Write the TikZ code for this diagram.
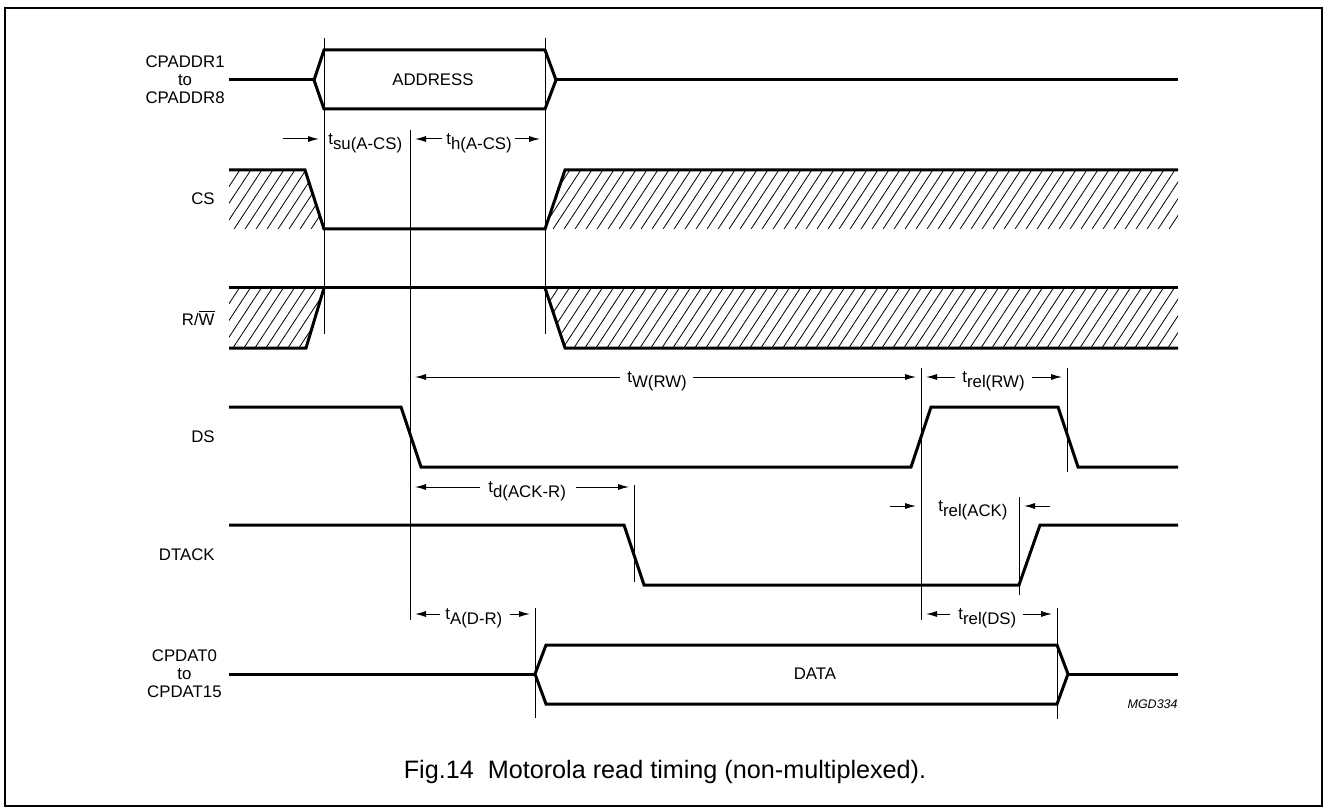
\documentclass[tikz,border=0pt]{standalone}
\usepackage{fontspec}
\setmainfont{Liberation Sans}
\usetikzlibrary{arrows.meta,calc}

\tikzset{
  wave/.style={line width=1.5pt, line join=miter},
  guide/.style={line width=0.5pt},
  dimarr/.style={line width=0.5pt, -{Latex[length=5.5pt,width=3pt]}, shorten >=2.5pt},
  siglbl/.style={font=\fontsize{8.4pt}{9pt}\selectfont, inner sep=0pt, align=center},
  tlbl/.style={font=\fontsize{8.4pt}{9pt}\selectfont, inner sep=0pt, anchor=west},
}
\newcommand{\tsub}[1]{t\smash{\raisebox{-2.5pt}{#1}}}
\newcommand{\hatchzone}[1]{%
  \begin{scope}
    \clip #1;
    \foreach \hx in {-50,-39,...,1200}
      \draw[line width=0.4pt] (\hx,360) -- ++(230,-350);
  \end{scope}}

\begin{document}
\begin{tikzpicture}[x=0.5pt, y=-0.5pt]
    \useasboundingbox (0,0) rectangle (1326,812);
    % Frame
    \draw[line width=1pt] (5,8) rectangle (1322,806);

    % Define guide positions
    \coordinate (gA) at (324,0);
    \coordinate (gB) at (410,0);
    \coordinate (gC) at (545,0);
    \coordinate (gD) at (921,0);
    \coordinate (gE) at (1067,0);
    \coordinate (gF) at (634,0);
    \coordinate (gG) at (1019,0);
    \coordinate (gH) at (535,0);
    \coordinate (gI) at (1057,0);

    % Hatched zones
    \hatchzone{(229,170) -- (305,170) -- (324,229) -- (229,229) -- cycle}
    \hatchzone{(545,229) -- (565,170) -- (1178,170) -- (1178,229) -- cycle}
    \hatchzone{(229,288) -- (324,288) -- (306,348) -- (229,348) -- cycle}
    \hatchzone{(545,288) -- (1178,288) -- (1178,348) -- (565,348) -- cycle}

    % Signal names
    \node[siglbl, anchor=east] (addr) at (225,80) {CPADDR1\\to\\CPADDR8};
    \node[siglbl, anchor=east] (cs) at (215,199) {CS};
    \node[siglbl, anchor=east] (rw) at (215,318) {R/$\overline{\mbox{W}}$};
    \node[siglbl, anchor=east] (ds) at (215,437) {DS};
    \node[siglbl, anchor=east] (dtack) at (215,555) {DTACK};
    \node[siglbl, anchor=east] (dat) at (222,674) {CPDAT0\\to\\CPDAT15};

    % Waveforms
    \draw[wave] (229,80) -- (314,80);
    \draw[wave] (314,80) -- (324,50) -- (545,50) -- (556,80) -- (545,109) -- (324,109) -- cycle;
    \draw[wave] (556,80) -- (1178,80);
    \node[siglbl] (address) at (433,80) {ADDRESS};

    \draw[wave] (229,170) -- (305,170) -- (324,229) -- (545,229) -- (565,170) -- (1178,170);

    \draw[wave] (229,288) -- (1178,288);
    \draw[wave] (229,348) -- (306,348) -- (324,288);
    \draw[wave] (545,288) -- (565,348) -- (1178,348);

    \draw[wave] (229,407) -- (401,407) -- (421,467) -- (911,467) -- (931,407) -- (1058,407) -- (1078,467) -- (1178,467);

    \draw[wave] (229,525) -- (624,525) -- (644,585) -- (1019,585) -- (1040,525) -- (1178,525);

    \draw[wave] (229,674) -- (535,674);
    \draw[wave] (535,674) -- (546,645) -- (1057,645) -- (1068,674) -- (1057,704) -- (546,704) -- cycle;
    \draw[wave] (1068,674) -- (1178,674);
    \node[siglbl] (data) at (815,674) {DATA};

    % Guide lines
    \draw[guide] (324,38) -- (324,334);
    \draw[guide] (545,38) -- (545,334);
    \draw[guide] (410,130) -- (410,620);
    \draw[guide] (921,368) -- (921,620);
    \draw[guide] (1067,368) -- (1067,472);
    \draw[guide] (634,485) -- (634,582);
    \draw[guide] (1019,497) -- (1019,595);
    \draw[guide] (535,608) -- (535,718);
    \draw[guide] (1057,608) -- (1057,719);

    % Timing parameters
    \node[tlbl] (tsu) at (328,139) {\tsub{su(A-CS)}};
    \draw[dimarr] ($(tsu.west -| gA)+(-20.5pt,0)$) -- (tsu.west -| gA);

    \node[tlbl] (th) at (446,139) {\tsub{h(A-CS)}};
    \draw[dimarr] ($(th.west)+(-2pt,0)$) -- (th.west -| gB);
    \draw[dimarr] ($(th.east)+(1.5pt,0)$) -- (th.east -| gC);

    \node[tlbl] (tw) at (627,377) {\tsub{W(RW)}};
    \draw[dimarr] ($(tw.west)+(-3.5pt,0)$) -- (tw.west -| gB);
    \draw[dimarr] ($(tw.east)+(3pt,0)$) -- (tw.east -| gD);

    \node[tlbl] (trrw) at (962,377) {\tsub{rel(RW)}};
    \draw[dimarr] ($(trrw.west)+(-3.5pt,0)$) -- (trrw.west -| gD);
    \draw[dimarr] ($(trrw.east)+(3.5pt,0)$) -- (trrw.east -| gE);

    \node[tlbl] (td) at (488,487) {\tsub{d(ACK-R)}};
    \draw[dimarr] ($(td.west)+(-4pt,0)$) -- (td.west -| gB);
    \draw[dimarr] ($(td.east)+(5pt,0)$) -- (td.east -| gF);

    \node[tlbl] (track) at (938,506) {\tsub{rel(ACK)}};
    \draw[dimarr] ($(track.west -| gD)+(-15.5pt,0)$) -- (track.west -| gD);
    \draw[dimarr] ($(track.east -| gG)+(15.5pt,0)$) -- (track.east -| gG);

    \node[tlbl] (tad) at (445,614) {\tsub{A(D-R)}};
    \draw[dimarr] ($(tad.west)+(-2.5pt,0)$) -- (tad.west -| gB);
    \draw[dimarr] ($(tad.east)+(3.5pt,0)$) -- (tad.east -| gH);

    \node[tlbl] (trds) at (958,614) {\tsub{rel(DS)}};
    \draw[dimarr] ($(trds.west)+(-4pt,0)$) -- (trds.west -| gD);
    \draw[dimarr] ($(trds.east)+(3pt,0)$) -- (trds.east -| gI);

    % Code and caption
    \node[font=\fontsize{6.25pt}{7pt}\selectfont\itshape, inner sep=0pt, anchor=east] (code) at (1178,704) {MGD334};
    \node[font=\fontsize{12.6pt}{14pt}\selectfont, inner sep=0pt] (cap) at (665,772) {Fig.14\ \ Motorola read timing (non-multiplexed).};

\end{tikzpicture}
\end{document}
